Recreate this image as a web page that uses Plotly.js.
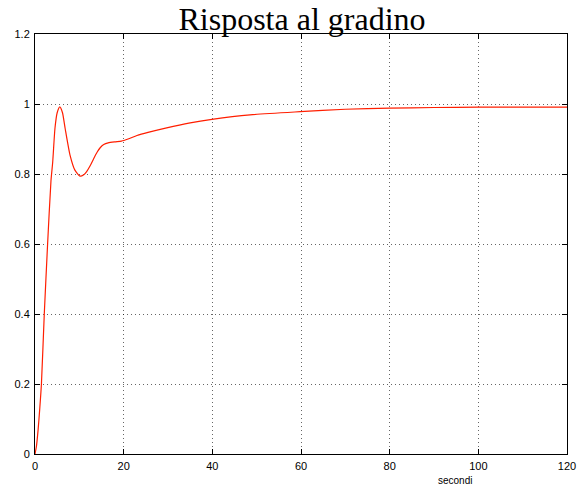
<!DOCTYPE html>
<html>
<head>
<meta charset="utf-8">
<script src="https://cdn.plot.ly/plotly-3.0.1.min.js"></script>
<style>html,body{margin:0;padding:0;background:#fff;}#chart{width:583px;height:486px;}</style>
</head>
<body>
<div id="chart"></div>
<script>
const timeSec = [0,0.3,0.7,1.05,1.45,2.1,2.85,3.6,4.0,4.5,5.0,5.6,6.2,6.8,7.9,9.0,10.15,11.0,11.65,12.5,13.2,14.0,14.7,15.5,16.5,18.0,19.5,21,23,25.5,29.7,35,39.9,48.5,59.8,70,80,90,100,110,120];
const response = [0,0.02,0.069,0.126,0.2,0.402,0.602,0.78,0.835,0.93,0.975,0.992,0.975,0.93,0.854,0.811,0.794,0.798,0.807,0.825,0.843,0.862,0.875,0.884,0.889,0.892,0.894,0.900,0.910,0.919,0.932,0.946,0.956,0.969,0.978,0.985,0.988,0.990,0.991,0.991,0.991];
const xTicks = [0,20,40,60,80,100,120];
const yTicks = [0,0.2,0.4,0.6,0.8,1,1.2];
const yTickText = ['0','0.2','0.4','0.6','0.8','1','1.2'];

const axisCommon = {
  showline: true, linecolor: '#000', linewidth: 1, mirror: 'ticks',
  ticks: 'inside', ticklen: 5, tickcolor: '#000',
  showgrid: true, gridcolor: 'rgba(0,0,0,0.6)', griddash: '1px,3px', gridwidth: 1,
  zeroline: false,
  tickfont: {family: 'Liberation Sans, Arial, sans-serif', size: 11, color: '#000'}
};

const trace = {
  x: timeSec, y: response, type: 'scatter', mode: 'lines',
  line: {color: 'rgb(255,30,0)', width: 1.2, shape: 'spline', smoothing: 0.6},
  hoverinfo: 'none'
};

const layout = {
  width: 583, height: 486,
  margin: {l: 35, r: 16, t: 34, b: 32},
  paper_bgcolor: '#fff', plot_bgcolor: '#fff',
  showlegend: false,
  title: {text: 'Risposta al gradino', x: 0.518, xanchor: 'center', y: 0.985, yanchor: 'top',
          font: {family: 'Liberation Serif, DejaVu Serif, serif', size: 32, color: '#000'}},
  xaxis: Object.assign({}, axisCommon, {range: [0, 120], tickvals: xTicks, ticktext: xTicks.map(String), ticklabelstandoff: 2}),
  yaxis: Object.assign({}, axisCommon, {range: [0, 1.2], tickvals: yTicks, ticktext: yTickText, ticklabelstandoff: 2}),
  annotations: [{
    text: 'secondi', xref: 'paper', yref: 'paper', x: 0.789, y: 0, yshift: -26,
    xanchor: 'center', yanchor: 'middle', showarrow: false,
    font: {family: 'Liberation Sans, Arial, sans-serif', size: 10, color: '#000'}
  }]
};

Plotly.newPlot('chart', [trace], layout, {staticPlot: true, displayModeBar: false});
</script>
</body>
</html>
